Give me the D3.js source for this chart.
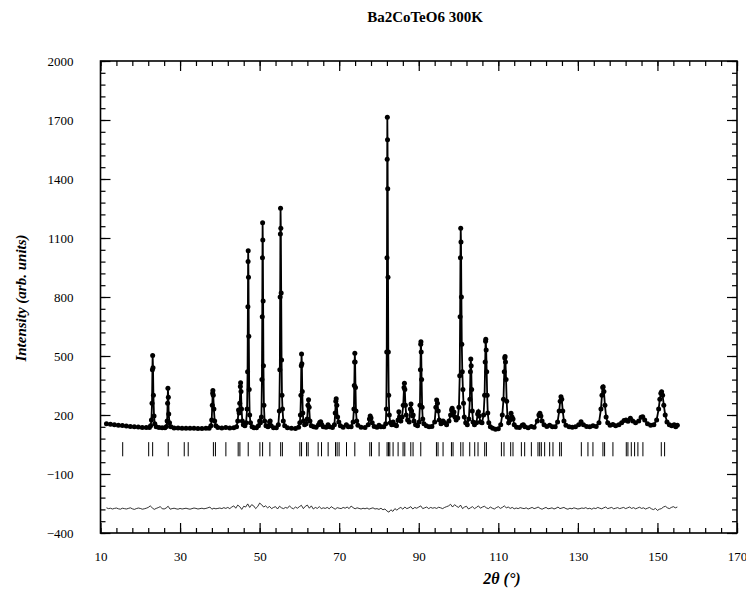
<!DOCTYPE html>
<html><head><meta charset="utf-8">
<script src="https://cdn.jsdelivr.net/npm/d3@7"></script>
<style>body{margin:0;background:#fff}</style>
</head><body><svg id="c" width="746" height="597"></svg>
<script>
const titleText = "Ba2CoTeO6 300K";
const xLabel = "2θ (°)";
const yLabel = "Intensity (arb. units)";
const xTicks = [10,30,50,70,90,110,130,150,170];
const yTicks = [-400,-100,200,500,800,1100,1400,1700,2000];

// observed profile [2theta, intensity]
const obs = [
[11.5,156],[12.5,153],[13.5,150],[14.5,148],[15.5,146],[16.5,144],[17.5,142],[18.5,140],[19.5,139],[20.5,137],[21.5,136],[22.3,137],
[22.6,145],[22.8,175],[22.95,260],[23.05,430],[23.11,502],[23.2,440],[23.3,300],[23.45,195],[23.65,155],[24.0,140],
[24.7,136],[25.5,135],[26.2,135],[26.6,142],
[26.75,170],[26.87,260],[26.95,336],[27.05,290],[27.15,205],[27.35,160],[27.7,140],
[28.5,134],[29.5,134],[30.5,133],[31.5,133],[32.5,132],[33.5,132],[34.5,131],[35.5,131],[36.5,132],[37.3,133],
[37.75,145],[37.95,175],[38.1,250],[38.2,310],[38.25,324],[38.35,300],[38.5,230],[38.7,170],[39.0,145],[39.5,136],
[40.5,134],[41.5,136],[42.5,134],[43.5,135],[44.2,140],
[44.5,170],[44.7,225],[44.85,210],[45.0,260],[45.15,345],[45.22,364],[45.32,320],[45.45,230],[45.65,170],[45.9,150],[46.3,145],[46.6,160],
[46.85,230],[46.97,420],[47.05,750],[47.1,980],[47.13,1035],[47.2,900],[47.28,600],[47.38,330],[47.5,200],[47.7,160],[48.1,140],[48.6,135],[49.2,135],[49.7,145],[50.0,170],[50.2,160],
[50.45,190],[50.58,380],[50.66,700],[50.71,1000],[50.75,1178],[50.8,1090],[50.88,780],[50.96,450],[51.08,250],[51.25,170],[51.6,145],[52.1,140],[52.5,165],[52.65,170],[52.9,145],[53.5,135],[54.2,135],[54.7,150],
[54.95,220],[55.08,430],[55.16,800],[55.22,1120],[55.26,1251],[55.33,1150],[55.42,820],[55.52,480],[55.62,300],[55.75,230],[55.95,170],[56.3,145],[57.0,135],[58.0,132],[59.0,131],[59.8,138],
[60.1,160],[60.25,200],[60.38,300],[60.47,450],[60.54,510],[60.62,460],[60.72,320],[60.85,210],[61.0,170],[61.3,150],[61.7,155],
[61.95,180],[62.15,250],[62.3,278],[62.45,240],[62.65,170],[63.0,145],[63.6,140],[64.2,138],
[64.8,150],[65.1,162],[65.35,166],[65.6,152],[66.0,140],[66.7,138],[67.2,150],[67.6,140],[68.3,136],[68.8,150],
[69.0,210],[69.15,270],[69.25,282],[69.4,250],[69.6,190],[69.9,165],[70.3,145],[71.0,138],[71.8,150],[72.3,140],[73.0,140],[73.5,165],
[73.7,230],[73.8,350],[73.88,470],[73.93,514],[74.0,470],[74.1,340],[74.22,220],[74.4,170],[74.7,148],[75.5,138],[76.5,136],[77.3,150],
[77.6,180],[77.8,195],[78.0,185],[78.3,160],[78.8,142],[79.5,138],[80.0,148],[80.5,140],[81.2,140],[81.7,155],
[81.85,230],[81.95,520],[82.02,1000],[82.07,1500],[82.1,1714],[82.15,1600],[82.2,1350],[82.27,900],[82.35,520],[82.45,300],[82.6,200],[82.85,160],[83.2,150],[83.55,165],[83.9,150],[84.4,145],[84.8,175],[85.0,217],[85.2,190],[85.5,170],[85.8,190],
[86.1,250],[86.3,340],[86.4,361],[86.5,330],[86.65,250],[86.85,200],[87.2,175],[87.6,165],[87.9,230],[88.05,256],[88.2,220],[88.45,195],[88.6,200],[88.8,170],[89.2,150],[89.7,145],[90.1,165],
[90.3,250],[90.42,430],[90.5,560],[90.55,573],[90.62,520],[90.72,380],[90.85,240],[91.0,180],[91.3,155],[91.9,145],[92.6,140],[93.3,142],[94.0,165],
[94.3,240],[94.5,276],[94.7,260],[94.9,220],[95.15,175],[95.6,155],[96.1,170],[96.5,160],[97.0,150],[97.6,170],[98.0,200],
[98.25,225],[98.4,234],[98.6,200],[98.85,215],[99.1,190],[99.4,175],[99.8,185],[100.1,240],
[100.3,400],[100.4,700],[100.48,1000],[100.55,1149],[100.62,1080],[100.72,800],[100.82,560],[100.95,420],[101.1,330],[101.25,260],[101.45,190],[101.8,160],[102.2,150],[102.6,180],
[102.85,280],[102.98,420],[103.08,485],[103.18,450],[103.3,330],[103.45,220],[103.65,165],[104.0,150],[104.5,160],[104.8,205],[105.0,217],[105.2,195],[105.5,165],[105.9,160],[106.3,200],
[106.55,300],[106.7,470],[106.8,575],[106.85,585],[106.95,530],[107.08,420],[107.2,300],[107.35,210],[107.6,160],[108.0,140],[108.6,132],[109.3,128],[110.0,130],[110.6,150],[111.0,200],
[111.3,280],[111.5,420],[111.62,490],[111.7,497],[111.8,470],[111.95,380],[112.1,270],[112.3,190],[112.6,160],[112.9,175],[113.2,209],[113.45,190],[113.7,180],[114.0,150],[114.6,138],[115.3,136],[116.0,148],[116.3,150],[116.7,140],[117.5,135],[118.3,142],[119.0,138],[119.8,170],
[120.2,200],[120.45,209],[120.7,195],[121.0,170],[121.5,150],[122.2,142],[122.9,148],[123.6,140],[124.3,140],[124.9,165],[125.3,220],
[125.55,270],[125.75,293],[125.95,280],[126.2,220],[126.5,170],[127.0,148],[127.8,140],[128.6,138],[129.4,140],[130.2,150],[130.8,166],[131.4,150],[132.2,142],[133.0,140],[133.8,145],[134.6,142],[135.3,160],[135.8,230],
[136.05,300],[136.25,340],[136.35,344],[136.55,320],[136.8,250],[137.1,190],[137.5,160],[138.1,148],[138.8,152],[139.5,145],[140.3,150],[141.0,160],[141.6,172],[142.1,175],[142.6,168],[143.2,183],[143.8,170],[144.5,160],[145.3,170],[145.9,188],[146.3,191],[146.8,175],[147.5,155],[148.3,148],[149.1,150],[149.8,175],[150.3,230],[150.6,280],
[150.85,310],[151.05,318],[151.3,300],[151.6,250],[151.95,200],[152.4,165],[153.0,150],[153.6,145],[154.2,150],[154.6,140],[155.0,148]
];

// Bragg reflection positions (2theta)
const bragg = [15.58,22.11,23.11,27.03,31.05,32.05,38.38,38.89,41.52,44.61,45.04,47.13,50.07,50.75,52.58,55.29,55.72,
60.11,60.54,61.80,62.20,64.71,65.56,67.22,69.08,69.48,69.98,71.84,73.93,77.70,78.12,80.03,82.04,82.39,82.72,83.55,84.81,
86.06,86.49,88.00,88.57,90.51,94.45,94.85,96.11,98.22,98.62,100.56,101.13,102.82,104.07,104.90,106.58,107.01,110.78,111.43,
113.11,113.69,115.80,116.63,118.31,119.97,120.40,120.82,121.65,122.91,123.74,125.42,125.85,130.87,132.53,133.79,136.30,136.72,
138.81,142.17,142.58,143.43,144.26,145.09,146.35,150.97,151.80];
const braggLow = -10, braggHigh = 62;

// difference curve (obs - calc, offset), from 11.5 deg in 0.5 deg steps
const diffStart = 11.5, diffStep = 0.5;
const diffValues = [
-272,-276,-274,-278,-275,-273,-277,-279,-274,-276,
-278,-275,-272,-277,-280,-276,-273,-275,-279,-277,
-274,-270,-262,-272,-280,-275,-271,-266,-276,-278,
-273,-264,-279,-276,-274,-277,-279,-275,-278,-276,
-274,-277,-279,-276,-273,-275,-278,-276,-274,-277,
-275,-272,-268,-279,-274,-277,-275,-273,-276,-271,
-275,-270,-276,-268,-262,-274,-258,-266,-280,-264,
-268,-252,-270,-256,-262,-276,-266,-248,-256,-268,
-262,-272,-265,-276,-270,-266,-278,-264,-272,-276,
-270,-274,-262,-272,-277,-268,-274,-266,-259,-276,
-264,-258,-274,-262,-278,-270,-275,-266,-276,-272,
-275,-270,-277,-266,-273,-279,-271,-274,-276,-270,
-274,-268,-276,-263,-271,-277,-272,-275,-278,-274,
-277,-273,-279,-275,-272,-278,-276,-280,-274,-282,
-278,-288,-294,-282,-290,-276,-284,-275,-270,-279,
-268,-276,-272,-266,-278,-270,-274,-268,-262,-276,
-272,-268,-276,-270,-274,-271,-275,-269,-272,-276,
-270,-266,-262,-254,-268,-256,-264,-270,-258,-276,
-268,-264,-278,-272,-266,-276,-270,-262,-274,-268,
-264,-272,-276,-268,-274,-278,-271,-266,-275,-270,
-262,-272,-268,-275,-270,-277,-273,-276,-271,-274,
-276,-272,-278,-274,-270,-276,-273,-268,-275,-279,
-274,-270,-277,-275,-272,-278,-274,-268,-276,-273,
-270,-276,-279,-274,-277,-272,-275,-278,-276,-273,
-275,-271,-277,-274,-279,-273,-276,-270,-274,-277,
-272,-268,-276,-273,-270,-277,-274,-271,-276,-273,
-270,-276,-272,-268,-275,-271,-277,-273,-269,-275,
-272,-278,-274,-270,-277,-281,-275,-285,-279,-276,
-268,-264,-272,-276,-270,-266,-272,-268
];

const svg = d3.select("#c");
const x = d3.scaleLinear().domain([10,170]).range([100.5,737]);
const y = d3.scaleLinear().domain([-400,2000]).range([533,61]);
const serif = "'Liberation Serif','Times New Roman',serif";

function styleAxis(g){
  g.select(".domain").remove();
  g.selectAll(".tick line").attr("stroke","#000").attr("stroke-width",1.2);
  g.selectAll(".tick text").attr("font-family",serif).attr("font-size",13).attr("fill","#000");
}
const xMinor = d3.range(10,170.01,4);
const yMinor = d3.range(-400,2000.01,60);

// minor ticks
svg.append("g").attr("transform","translate(0,533)").call(d3.axisBottom(x).tickValues(xMinor).tickSize(-5).tickFormat("")).call(styleAxis);
svg.append("g").attr("transform","translate(0,61)").call(d3.axisTop(x).tickValues(xMinor).tickSize(-5).tickFormat("")).call(styleAxis);
svg.append("g").attr("transform","translate(100.5,0)").call(d3.axisLeft(y).tickValues(yMinor).tickSize(-5).tickFormat("")).call(styleAxis);
svg.append("g").attr("transform","translate(737,0)").call(d3.axisRight(y).tickValues(yMinor).tickSize(-5).tickFormat("")).call(styleAxis);
// major ticks
svg.append("g").attr("transform","translate(0,533)").call(d3.axisBottom(x).tickValues(xTicks).tickSize(-10).tickPadding(19).tickFormat(d3.format("d"))).call(styleAxis);
svg.append("g").attr("transform","translate(0,61)").call(d3.axisTop(x).tickValues(xTicks).tickSize(-10).tickFormat("")).call(styleAxis);
svg.append("g").attr("transform","translate(100.5,0)").call(d3.axisLeft(y).tickValues(yTicks).tickSize(-10).tickPadding(27).tickFormat(d3.format("d"))).call(styleAxis);
svg.append("g").attr("transform","translate(737,0)").call(d3.axisRight(y).tickValues(yTicks).tickSize(-10).tickFormat("")).call(styleAxis);

// frame
svg.append("rect").attr("x",x(10)).attr("y",y(2000)).attr("width",x(170)-x(10)).attr("height",y(-400)-y(2000))
  .attr("fill","none").attr("stroke","#000").attr("stroke-width",1.6);

// calculated/observed line
const line = d3.line().x(d=>x(d[0])).y(d=>y(d[1]));
svg.append("path").datum(obs).attr("d",line).attr("fill","none").attr("stroke","#000").attr("stroke-width",1.8);
svg.append("g").selectAll("circle").data(obs).join("circle")
  .attr("cx",d=>x(d[0])).attr("cy",d=>y(d[1])).attr("r",2.5).attr("fill","#000");

// bragg ticks
svg.append("g").selectAll("line").data(bragg).join("line")
  .attr("x1",d=>x(d)).attr("x2",d=>x(d)).attr("y1",y(braggHigh)).attr("y2",y(braggLow))
  .attr("stroke","#000").attr("stroke-width",1);

// difference
const diff = diffValues.map((v,i)=>[diffStart+i*diffStep, v]);
svg.append("path").datum(diff).attr("d",line).attr("fill","none").attr("stroke","#000").attr("stroke-width",0.8);

// texts
svg.append("text").attr("x",425).attr("y",22).attr("text-anchor","middle")
  .attr("font-family",serif).attr("font-weight","bold").attr("font-size",15).text(titleText);
svg.append("text").attr("transform","translate(26,298) rotate(-90)").attr("text-anchor","middle")
  .attr("font-family",serif).attr("font-weight","bold").attr("font-style","italic").attr("font-size",15).text(yLabel);
svg.append("text").attr("x",502).attr("y",584).attr("text-anchor","middle")
  .attr("font-family",serif).attr("font-weight","bold").attr("font-style","italic").attr("font-size",16).text(xLabel);
</script></body></html>
